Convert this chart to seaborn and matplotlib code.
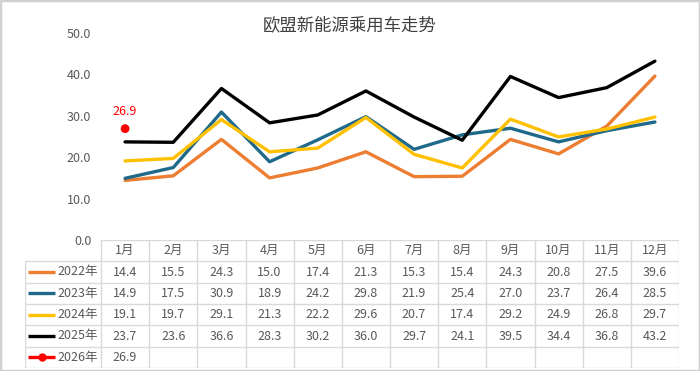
import numpy as np
import pandas as pd
import seaborn as sns
import matplotlib.pyplot as plt
from matplotlib.patches import Rectangle

months = ["1月", "2月", "3月", "4月", "5月", "6月", "7月", "8月", "9月", "10月", "11月", "12月"]
years = ["2022年", "2023年", "2024年", "2025年", "2026年"]
v2022 = [14.4, 15.5, 24.3, 15.0, 17.4, 21.3, 15.3, 15.4, 24.3, 20.8, 27.5, 39.6]
v2023 = [14.9, 17.5, 30.9, 18.9, 24.2, 29.8, 21.9, 25.4, 27.0, 23.7, 26.4, 28.5]
v2024 = [19.1, 19.7, 29.1, 21.3, 22.2, 29.6, 20.7, 17.4, 29.2, 24.9, 26.8, 29.7]
v2025 = [23.7, 23.6, 36.6, 28.3, 30.2, 36.0, 29.7, 24.1, 39.5, 34.4, 36.8, 43.2]
v2026 = [26.9]
series = [v2022, v2023, v2024, v2025, v2026]
colors = ["#ED7D31", "#1F6A8A", "#FFC000", "#000000", "#FF0000"]

sns.set_theme(style="white")
plt.rcParams["font.family"] = ["Noto Sans CJK SC", "DejaVu Sans"]
txt = "#595959"
fs = 9

rows = []
for y, vals in zip(years, series):
    for i, v in enumerate(vals):
        rows.append({"year": y, "m": i, "value": v})
df = pd.DataFrame(rows)

W, H = 700, 371
fig = plt.figure(figsize=(7, 3.71), dpi=100)
fig.patches.append(Rectangle((0, 0), 1, 1, transform=fig.transFigure, fill=False,
                             edgecolor="#D0D0D0", linewidth=2.5))

x0, x1 = 101, 679
colw = (x1 - x0) / 12
ax = fig.add_axes([x0 / W, (H - 240) / H, (x1 - x0) / W, (240 - 33) / H])
sns.lineplot(data=df[df.year != "2026年"], x="m", y="value", hue="year",
             palette=colors[:4], linewidth=2.4, ax=ax, legend=False, sort=False)
sns.scatterplot(data=df[df.year == "2026年"], x="m", y="value", color=colors[4],
                s=40, ax=ax, legend=False, zorder=5, edgecolor="none")
for i, v in enumerate(v2026):
    ax.annotate(f"{v:.1f}", (i, v), xytext=(0, 8), textcoords="offset points",
                ha="center", va="bottom", color="#FF0000", fontsize=fs)
ax.set_xlim(-0.5, 11.5)
ax.set_ylim(0, 50)
ax.set_yticks(np.arange(0, 51, 10))
ax.yaxis.set_major_formatter(lambda v, p: f"{v:.1f}")
ax.tick_params(axis="y", colors=txt, labelsize=fs, length=0, pad=7)
ax.set_xticks([])
ax.set_xlabel("")
ax.set_ylabel("")
for s in ax.spines.values():
    s.set_visible(False)
ax.patch.set_alpha(0)

fig.text(0.5, 1 - 25 / H, "欧盟新能源乘用车走势", ha="center", va="center",
         fontsize=12.5, color="#404040")

# data table
lx = 25
labw = (x0 - lx) / colw
tb = fig.add_axes([lx / W, (H - 368) / H, (x1 - lx) / W, (368 - 240) / H])
tb.set_xlim(-0.5 - labw, 11.5)
tb.set_ylim(6, 0)
tb.axis("off")
gc = "#D9D9D9"
lw = 1.0
tb.plot([-0.5, 11.5], [0, 0], color=gc, lw=lw)
for r in range(1, 7):
    tb.plot([-0.5 - labw, 11.5], [r, r], color=gc, lw=lw)
for c in range(13):
    tb.plot([c - 0.5, c - 0.5], [0, 6], color=gc, lw=lw)
tb.plot([-0.5 - labw] * 2, [1, 6], color=gc, lw=lw)
for i, m in enumerate(months):
    tb.text(i, 0.5, m, ha="center", va="center", fontsize=fs, color=txt)
for r, (y, vals, c) in enumerate(zip(years, series, colors), start=1):
    for i, v in enumerate(vals):
        tb.text(i, r + 0.5, f"{v:.1f}", ha="center", va="center", fontsize=fs, color=txt)
    ls = -0.5 - labw + 3 / colw
    le = ls + 27 / colw
    tb.plot([ls, le], [r + 0.5, r + 0.5], color=c, lw=2.4, solid_capstyle="butt")
    if y == "2026年":
        tb.plot([(ls + le) / 2], [r + 0.5], "o", color=c, ms=5)
    tb.text(-0.5 - 3 / colw, r + 0.5, y, ha="right", va="center", fontsize=fs, color=txt)

fig.savefig("out.png", dpi=100)
